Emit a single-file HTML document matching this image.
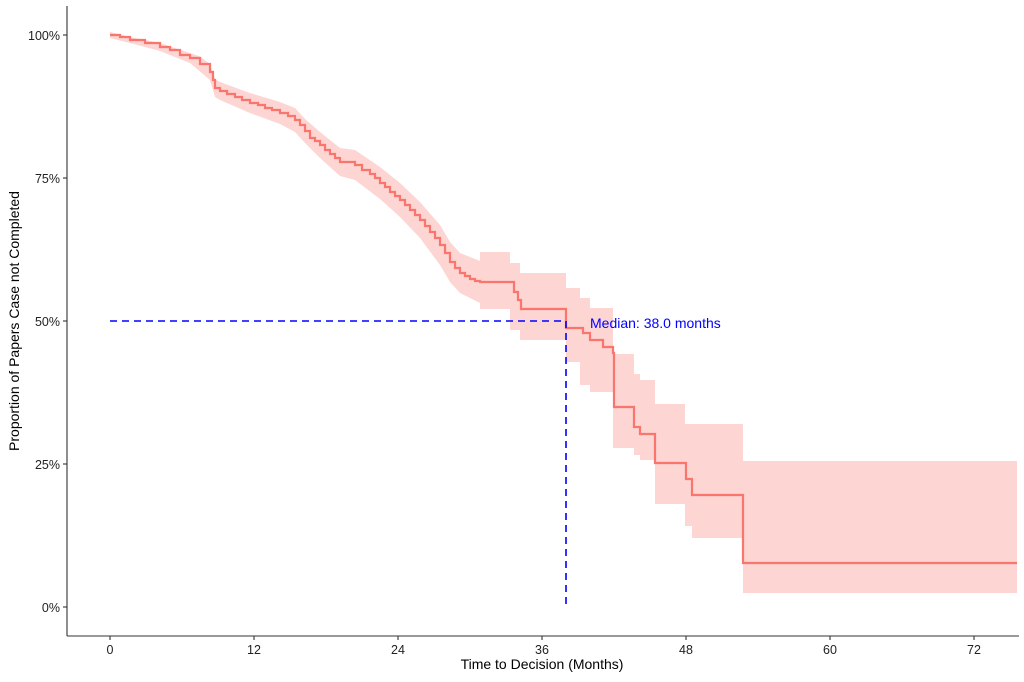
<!DOCTYPE html>
<html><head><meta charset="utf-8"><style>
html,body{margin:0;padding:0;background:#fff}
svg{display:block;font-family:"Liberation Sans",Arial,sans-serif}
</style></head><body>
<svg width="1024" height="682" viewBox="0 0 1024 682" xmlns="http://www.w3.org/2000/svg">
<polygon fill="#fdd5d3" points="110,32 130,37 160,43 190,53 200,56.5 210,64 215,79 220,82 250,93 280,102 295,108 305,119 320,132 340,148 355,150 380,167 400,183 420,202 440,225 450,242 460,253 480,261 480,252 510,252 510,263 520,263 520,273 566,273 566,288 580,288 580,298 590,298 590,308 613,308 613,354 634,354 634,374 640,374 640,380 655,380 655,404 685,404 685,424 743,424 743,461 1017,461 1017,593 743,593 743,538 692,538 692,526 685,526 685,504 655,504 655,460 640,460 640,455 634,455 634,448 613,448 613,392 590,392 590,385 580,385 580,362 566,362 566,340 520,340 520,330 510,330 510,309 480,309 480,303 460,293 450,282 440,265 420,238 400,217 380,199 355,180 340,176 320,158 305,143 295,132 280,124 250,113 220,100 215,97 210,80 200,71.5 190,63 160,51 130,43 110,38"/>
<path fill="none" stroke="#f8766d" stroke-width="2.2" d="M110 35 H120 V37 H130 V40 H145 V43 H160 V47 H170 V50 H180 V55 H190 V58 H200 V64 H210 V72 H213 V80 H215 V88 H220 V91 H227 V94 H235 V97 H242 V100 H250 V103 H258 V105 H265 V108 H272 V110 H280 V113 H288 V116 H295 V120 H300 V125 H305 V131 H310 V138 H315 V141 H320 V145 H325 V150 H330 V154 H335 V158 H340 V162 H355 V165 H362 V170 H370 V174 H375 V178 H380 V183 H385 V187 H390 V192 H395 V196 H400 V200 H405 V205 H410 V210 H415 V215 H420 V220 H425 V226 H430 V232 H435 V238 H440 V245 H445 V253 H450 V262 H455 V268 H460 V273 H465 V276 H470 V279 H475 V281 H480 V282 H510 V282 H514 V292 H518 V300 H521 V309 H566 V328 H583 V333 H590 V340 H603 V347 H613 V353 H614 V407 H634 V427 H640 V434 H655 V463 H686 V479 H692 V495 H743 V563 H1017"/>
<line x1="110" y1="321" x2="566" y2="321" stroke="#0000ff" stroke-width="1.6" stroke-dasharray="7,5"/>
<line x1="566" y1="321" x2="566" y2="607" stroke="#0000ff" stroke-width="1.6" stroke-dasharray="7,5"/>
<text x="590" y="328" font-size="14" fill="#0000ff">Median: 38.0 months</text>
<line x1="67" y1="6" x2="67" y2="636" stroke="#333" stroke-width="1.1"/>
<line x1="67" y1="636" x2="1019" y2="636" stroke="#333" stroke-width="1.1"/>
<g font-size="12.5" fill="#222" text-anchor="end">
<text x="60" y="40">100%</text><text x="60" y="183">75%</text><text x="60" y="326">50%</text><text x="60" y="469">25%</text><text x="60" y="612">0%</text>
</g>
<g stroke="#333" stroke-width="1.1">
<line x1="63" y1="35" x2="67" y2="35"/><line x1="63" y1="178" x2="67" y2="178"/><line x1="63" y1="321" x2="67" y2="321"/><line x1="63" y1="464" x2="67" y2="464"/><line x1="63" y1="607" x2="67" y2="607"/>
<line x1="110" y1="636" x2="110" y2="640"/><line x1="254" y1="636" x2="254" y2="640"/><line x1="398" y1="636" x2="398" y2="640"/><line x1="542" y1="636" x2="542" y2="640"/><line x1="686" y1="636" x2="686" y2="640"/><line x1="830" y1="636" x2="830" y2="640"/><line x1="974" y1="636" x2="974" y2="640"/>
</g>
<g font-size="12.5" fill="#222" text-anchor="middle">
<text x="110" y="654">0</text><text x="254" y="654">12</text><text x="398" y="654">24</text><text x="542" y="654">36</text><text x="686" y="654">48</text><text x="830" y="654">60</text><text x="974" y="654">72</text>
</g>
<text x="542" y="669" font-size="14" text-anchor="middle" fill="#000">Time to Decision (Months)</text>
<text transform="translate(19,321) rotate(-90)" font-size="14" text-anchor="middle" fill="#000">Proportion of Papers Case not Completed</text>
</svg>
</body></html>
